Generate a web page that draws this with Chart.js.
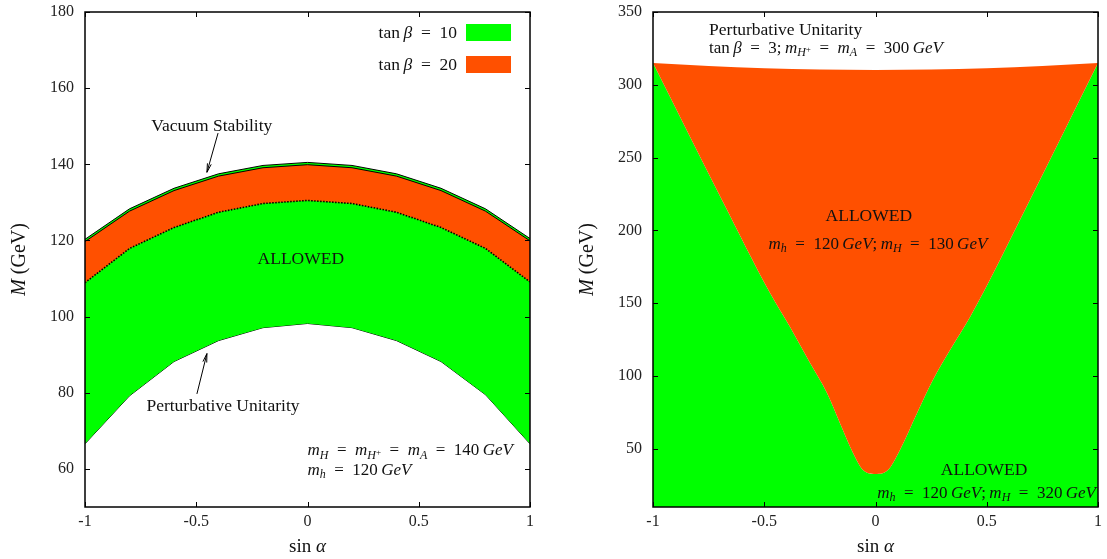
<!DOCTYPE html>
<html>
<head>
<meta charset="utf-8">
<script src="https://cdn.jsdelivr.net/npm/chart.js@4.4.1/dist/chart.umd.min.js"></script>
<style>
    body { margin: 0; background: #fff; width: 1107px; height: 559px; position: relative; overflow: hidden; }
    .panel { position: absolute; top: 0; height: 559px; }
    #p1 { left: 0; width: 545px; }
    #p2 { left: 568px; width: 539px; }
</style>
</head>
<body>
<div class="panel" id="p1"><canvas id="leftChart"></canvas></div>
<div class="panel" id="p2"><canvas id="rightChart"></canvas></div>
<script>
// ---- left panel data (sin alpha scan, M in GeV)
const sinAlpha = [-1, -0.8, -0.6, -0.4, -0.2, 0, 0.2, 0.4, 0.6, 0.8, 1];
const vacuum10 = [120.3, 128.3, 133.7, 137.5, 139.7, 140.5, 139.7, 137.5, 133.7, 128.3, 120.5];
const vacuum20 = [119.7, 127.7, 133.1, 136.9, 139.1, 139.9, 139.1, 136.9, 133.1, 127.7, 119.9];
const unitarity20 = [108.9, 117.9, 123.4, 127.4, 129.7, 130.5, 129.7, 127.4, 123.4, 117.9, 109.1];
const unitarity10 = [66.6, 79.2, 88.2, 93.7, 97.1, 98.2, 97.1, 93.7, 88.2, 79.5, 66.6];
const leftXTicks = [-1, -0.5, 0, 0.5, 1];
const leftYTicks = [60, 80, 100, 120, 140, 160, 180];

// ---- right panel data
const topX = [-1, -0.5, 0, 0.5, 1];
const topM = [315, 311.3, 310.2, 311.3, 315];
const lowX = [-1, -0.69, -0.474, -0.384, -0.294, -0.218, -0.16, -0.101, -0.056, 0.0, 0.056, 0.11, 0.187, 0.258, 0.335, 0.425, 0.694, 1];
const lowM = [315, 220.9, 157.0, 133.7, 108.9, 88.3, 67.7, 47.1, 35.4, 32.7, 35.4, 49.2, 74.6, 97.3, 117.9, 140.5, 220.9, 315];
const rightXTicks = [-1, -0.5, 0, 0.5, 1];
const rightYTicks = [50, 100, 150, 200, 250, 300, 350];

const GREEN = '#00ff00';
const ORANGE = '#ff5000';
const FONT = '"Liberation Serif", "DejaVu Serif", serif';
const EQ = '\u2002=\u2002';
const TXT = 17.5;
const MATH = 17;

const pts = (xs, ys) => xs.map((x, i) => ({ x: x, y: ys[i] }));

// draw a line of mixed roman / italic / subscript text, y is the vertical centre
function drawRich(ctx, parts, x, y, align, size) {
    const fontFor = (st) => {
        if (st === 'i') return `italic ${size}px ${FONT}`;
        if (st === 's') return `italic ${Math.round(size * 0.72)}px ${FONT}`;
        if (st === 'p') return `${Math.round(size * 0.55)}px ${FONT}`;
        return `${size}px ${FONT}`;
    };
    const shift = (st) => (st === 's' ? size * 0.22 : st === 'p' ? -size * 0.02 : 0);
    let total = 0;
    parts.forEach(([t, st]) => { ctx.font = fontFor(st); total += ctx.measureText(t).width; });
    let cx = align === 'center' ? x - total / 2 : align === 'right' ? x - total : x;
    const base = y + size * 0.33;
    ctx.textAlign = 'left';
    ctx.textBaseline = 'alphabetic';
    parts.forEach(([t, st]) => {
        ctx.font = fontFor(st);
        ctx.fillText(t, cx, base + shift(st));
        cx += ctx.measureText(t).width;
    });
}

function arrow(ctx, x1, y1, x2, y2) {
    ctx.beginPath();
    ctx.moveTo(x1, y1);
    ctx.lineTo(x2, y2);
    ctx.stroke();
    const a = Math.atan2(y2 - y1, x2 - x1);
    const len = 9, spread = 0.22;
    ctx.beginPath();
    ctx.moveTo(x2 - len * Math.cos(a - spread), y2 - len * Math.sin(a - spread));
    ctx.lineTo(x2, y2);
    ctx.lineTo(x2 - len * Math.cos(a + spread), y2 - len * Math.sin(a + spread));
    ctx.stroke();
}

const decor = {
    id: 'decor',
    afterDraw(chart, args, opts) {
        const { ctx, chartArea: a, scales } = chart;
        const xs = scales.x, ys = scales.y;
        ctx.save();
        ctx.strokeStyle = '#000';
        ctx.fillStyle = '#111';
        // inward tick marks, mirrored
        ctx.lineWidth = 1;
        xs.ticks.forEach(t => {
            const px = Math.round(xs.getPixelForValue(t.value)) + 0.5;
            ctx.beginPath();
            ctx.moveTo(px, a.bottom); ctx.lineTo(px, a.bottom - 5);
            ctx.moveTo(px, a.top); ctx.lineTo(px, a.top + 5);
            ctx.stroke();
        });
        ys.ticks.forEach(t => {
            const py = Math.round(ys.getPixelForValue(t.value)) + 0.5;
            ctx.beginPath();
            ctx.moveTo(a.left, py); ctx.lineTo(a.left + 5, py);
            ctx.moveTo(a.right, py); ctx.lineTo(a.right - 5, py);
            ctx.stroke();
        });
        ctx.lineWidth = 1.5;
        ctx.strokeRect(a.left, a.top, a.right - a.left, a.bottom - a.top);

        // annotations
        (opts.notes || []).forEach(n => {
            drawRich(ctx, n.parts, xs.getPixelForValue(n.x), ys.getPixelForValue(n.y), n.align, n.size || TXT);
        });
        ctx.lineWidth = 1;
        (opts.arrows || []).forEach(r => {
            arrow(ctx, xs.getPixelForValue(r[0]), ys.getPixelForValue(r[1]),
                xs.getPixelForValue(r[2]), ys.getPixelForValue(r[3]));
        });

        // legend
        (opts.legend || []).forEach((l, i) => {
            const yc = a.top + 20 + i * 32;
            drawRich(ctx, l.parts, a.right - 73, yc, 'right', TXT);
            ctx.fillStyle = l.color;
            ctx.fillRect(a.right - 64, yc - 8, 45, 17);
            ctx.fillStyle = '#111';
        });

        // axis titles
        ctx.save();
        ctx.translate(18, (a.top + a.bottom) / 2);
        ctx.rotate(-Math.PI / 2);
        drawRich(ctx, [['M', 'i'], [' (GeV)', 'r']], 0, 0, 'center', 20);
        ctx.restore();
        drawRich(ctx, [['sin ', 'r'], ['α', 'i']], (a.left + a.right) / 2, 546, 'center', 19);
        ctx.restore();
    }
};

function axes(xTicks, yTicks, yMin, yMax) {
    const tickFont = { family: FONT, size: 16 };
    return {
        x: {
            type: 'linear', min: -1, max: 1,
            afterBuildTicks: s => { s.ticks = xTicks.map(v => ({ value: v })); },
            afterFit: s => { s.height = 52; s.paddingLeft = 0; s.paddingRight = 0; },
            grid: { display: false, drawTicks: false },
            border: { display: false },
            ticks: { font: tickFont, color: '#222', padding: 5, maxRotation: 0, callback: v => String(v) }
        },
        y: {
            type: 'linear', min: yMin, max: yMax,
            afterBuildTicks: s => { s.ticks = yTicks.map(v => ({ value: v })); },
            afterFit: s => { s.width = 85; s.paddingTop = 0; s.paddingBottom = 0; },
            grid: { display: false, drawTicks: false },
            border: { display: false },
            ticks: { font: tickFont, color: '#222', padding: 11, callback: v => String(v) }
        }
    };
}

const common = {
    responsive: true,
    maintainAspectRatio: false,
    animation: false,
    elements: { point: { radius: 0 }, line: { tension: 0 } }
};

const mathH = (mass) => [['m', 'i'], ['H', 's'], [EQ, 'r'], ['m', 'i'], ['H', 's'], ['+', 'p'],
    [EQ, 'r'], ['m', 'i'], ['A', 's'], [EQ + mass + '\u2009', 'r'], ['GeV', 'i']];
const mathPair = (mH) => [['m', 'i'], ['h', 's'], [EQ + '120\u2009', 'r'], ['GeV', 'i'], [';\u2009', 'r'],
    ['m', 'i'], ['H', 's'], [EQ + mH + '\u2009', 'r'], ['GeV', 'i']];

new Chart(document.getElementById('leftChart'), {
    type: 'line',
    data: {
        datasets: [
            { label: 'tan β = 20', data: pts(sinAlpha, vacuum20), fill: 1, backgroundColor: ORANGE,
              borderColor: '#000', borderWidth: 1, order: 1 },
            { label: 'unitarity 20', data: pts(sinAlpha, unitarity20), fill: false,
              borderColor: '#000', borderWidth: 1.6, borderDash: [1.5, 1.5], order: 0 },
            { label: 'tan β = 10', data: pts(sinAlpha, vacuum10), fill: 3, backgroundColor: GREEN,
              borderColor: '#000', borderWidth: 1, order: 2 },
            { label: 'unitarity 10', data: pts(sinAlpha, unitarity10), fill: false,
              borderColor: '#000', borderWidth: 1, order: 2 }
        ]
    },
    options: {
        ...common,
        layout: { padding: { top: 12, right: 15, bottom: 0, left: 0 } },
        scales: axes(leftXTicks, leftYTicks, 50, 180),
        plugins: {
            legend: { display: false },
            tooltip: { enabled: false },
            decor: {
                notes: [
                    { x: -0.43, y: 150.3, align: 'center', parts: [['Vacuum Stability', 'r']] },
                    { x: -0.03, y: 115.3, align: 'center', parts: [['ALLOWED', 'r']] },
                    { x: -0.38, y: 76.8, align: 'center', parts: [['Perturbative Unitarity', 'r']] },
                    { x: 0.0, y: 65.0, align: 'left', size: MATH, parts: mathH('140') },
                    { x: 0.0, y: 60.0, align: 'left', size: MATH, parts: [['m', 'i'], ['h', 's'], [EQ + '120\u2009', 'r'], ['GeV', 'i']] }
                ],
                arrows: [[-0.402, 148.2, -0.452, 137.9], [-0.497, 79.7, -0.452, 90.3]],
                legend: [
                    { color: GREEN, parts: [['tan\u2009', 'r'], ['β', 'i'], [EQ + '10', 'r']] },
                    { color: ORANGE, parts: [['tan\u2009', 'r'], ['β', 'i'], [EQ + '20', 'r']] }
                ]
            }
        }
    },
    plugins: [decor]
});

new Chart(document.getElementById('rightChart'), {
    type: 'line',
    data: {
        datasets: [
            { label: 'allowed, m_H = 320', data: pts(lowX, lowM), fill: 'start', backgroundColor: GREEN,
              borderWidth: 0, borderColor: GREEN, cubicInterpolationMode: 'monotone', order: 1 },
            { label: 'allowed, m_H = 130', data: pts(topX, topM), fill: 0, backgroundColor: ORANGE,
              borderWidth: 0, borderColor: ORANGE, cubicInterpolationMode: 'monotone', order: 0 }
        ]
    },
    options: {
        ...common,
        layout: { padding: { top: 12, right: 9, bottom: 0, left: 0 } },
        scales: axes(rightXTicks, rightYTicks, 10, 350),
        plugins: {
            legend: { display: false },
            tooltip: { enabled: false },
            decor: {
                notes: [
                    { x: -0.748, y: 338.3, align: 'left', parts: [['Perturbative Unitarity', 'r']] },
                    { x: -0.748, y: 326.0, align: 'left', size: MATH, parts: [['tan\u2009', 'r'], ['β', 'i'], [EQ + '3;\u2009', 'r']].concat(mathH('300').slice(3)) },
                    { x: -0.03, y: 210.6, align: 'center', parts: [['ALLOWED', 'r']] },
                    { x: 0.011, y: 191.3, align: 'center', size: MATH, parts: mathPair('130') },
                    { x: 0.488, y: 36.1, align: 'center', parts: [['ALLOWED', 'r']] },
                    { x: 0.991, y: 20.3, align: 'right', size: MATH, parts: mathPair('320') }
                ]
            }
        }
    },
    plugins: [decor]
});
</script>
</body>
</html>
